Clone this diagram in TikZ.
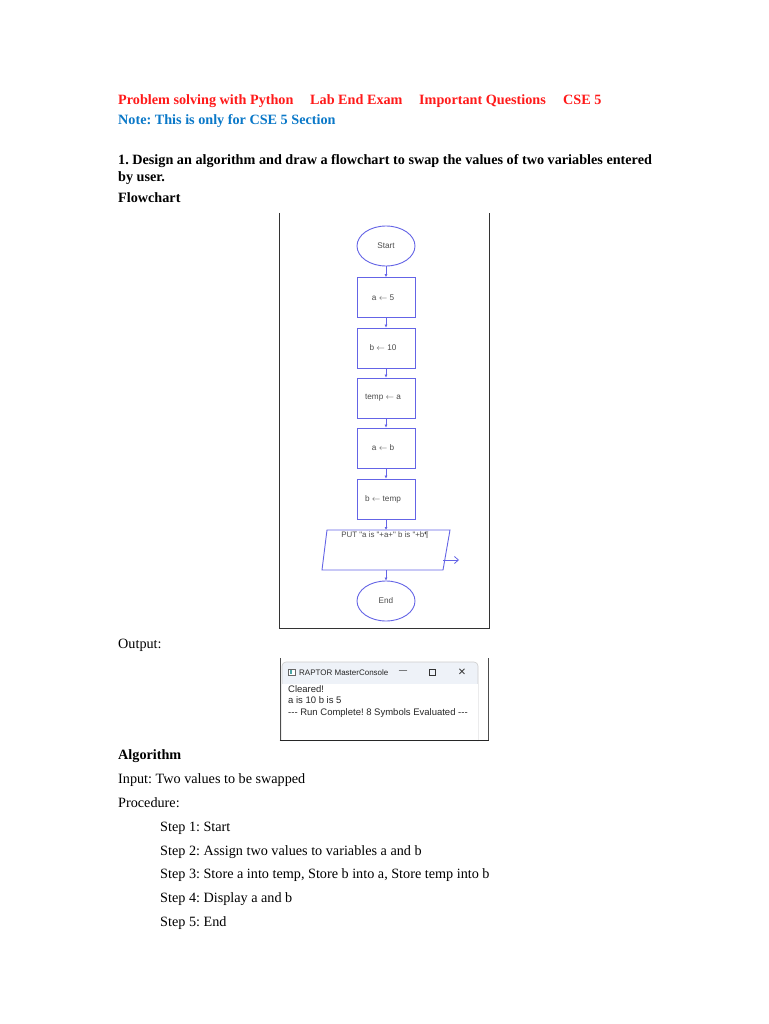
\documentclass[tikz,border=0pt]{standalone}
\usepackage{fontspec}
\setmainfont{Liberation Serif}
\newfontfamily\fcsans{Liberation Sans}
\newfontfamily\djv{DejaVu Sans}
\usetikzlibrary{arrows.meta,shapes.geometric}
\frenchspacing
\definecolor{hdrred}{HTML}{FF1A1A}
\definecolor{noteblue}{HTML}{0A78C8}
\definecolor{fcblue}{HTML}{6464E6}
\definecolor{tbar}{HTML}{EEF2F8}
\tikzset{
  txt/.style={anchor=base west,inner sep=0pt,font=\fontsize{14.2}{17}\selectfont},
  btxt/.style={txt,font=\fontsize{14.2}{17}\selectfont\bfseries},
  fcbox/.style={draw=fcblue,line width=0.9pt,minimum width=58pt,minimum height=40pt,inner sep=0pt,font=\fcsans\fontsize{8.2}{9}\selectfont,text=black!70},
  fcell/.style={ellipse,draw=fcblue,line width=0.9pt,minimum width=58pt,minimum height=40pt,inner sep=0pt,font=\fcsans\fontsize{8.2}{9}\selectfont,text=black!70},
  fcarr/.style={draw=fcblue,line width=0.8pt,-{Latex[length=3pt,width=3pt]}},
  cons/.style={anchor=base west,inner sep=0pt,font=\fcsans\fontsize{9.5}{11}\selectfont,text=black!85},
}
\begin{document}
\begin{tikzpicture}[x=1pt,y=-1pt]
\useasboundingbox (0,0) rectangle (768,1024);
\fill[white] (0,0) rectangle (768,1024);
% header
\node[btxt,text=hdrred] (h1) at (118,105) {Problem solving with Python};
\node[btxt,text=hdrred] (h2) at (310,105) {Lab End Exam};
\node[btxt,text=hdrred] (h3) at (419,105) {Important Questions};
\node[btxt,text=hdrred] (h4) at (563,105) {CSE 5};
\node[btxt,text=noteblue] (note) at (118,125) {Note: This is only for CSE 5 Section};
\node[btxt] (q1) at (118,165) {1. Design an algorithm and draw a flowchart to swap the values of two variables entered};
\node[btxt] (q2) at (118,182) {by user.};
\node[btxt] (fch) at (118,203) {Flowchart};
% frame
\draw[line width=0.9pt,black!80] (279,213) -- (279,628) -- (489,628) -- (489,213);
% flowchart
\node[fcell] (start) at (386,246) {Start};
\node[fcbox] (s1) at (386,297.5) {\hspace*{-6pt}a \(\leftarrow\) 5};
\node[fcbox] (s2) at (386,348) {\hspace*{-6pt}b \(\leftarrow\) 10};
\node[fcbox] (s3) at (386,398) {\hspace*{-6pt}temp \(\leftarrow\) a};
\node[fcbox] (s4) at (386,448) {\hspace*{-6pt}a \(\leftarrow\) b};
\node[fcbox] (s5) at (386,499) {\hspace*{-6pt}b \(\leftarrow\) temp};
\draw[fcblue,line width=0.9pt] (327,530) -- (450,530) -- (443,570) -- (322,570) -- cycle;
\coordinate (outtop) at (386,530);
\coordinate (outbot) at (386,570);
\node[font=\fcsans\fontsize{7.9}{9}\selectfont,text=black!70,inner sep=0pt] (outtxt) at (385,535.5) {PUT "a is "+a+" b is "+b¶};
\coordinate (outr) at (443,560);
\coordinate (outr2) at (459,560);
\draw[fcblue,line width=0.8pt,-{Straight Barb[length=4pt,width=7pt]}] (outr) -- (outr2);
\node[fcell] (end) at (386,601) {End};
\draw[fcarr] (start) -- (s1);
\draw[fcarr] (s1) -- (s2);
\draw[fcarr] (s2) -- (s3);
\draw[fcarr] (s3) -- (s4);
\draw[fcarr] (s4) -- (s5);
\draw[fcarr] (s5) -- (outtop);
\draw[fcarr] (outbot) -- (end);
% output
\node[txt] (outlbl) at (118,648) {Output:};
\draw[black!20,fill=tbar,line width=0.6pt,rounded corners=4pt] (282,741) -- (282,662) -- (478,662) -- (478,741);
\fill[white] (282.3,684) rectangle (477.7,740);
\draw[black!70,line width=1pt] (280,658) -- (280,741);
\draw[black!70,line width=1pt] (488,658) -- (488,741);
\draw[black!85,line width=1.4pt] (279.5,740.5) -- (488.5,740.5);
\node[draw=black!60,fill=white,minimum width=7pt,minimum height=6pt,inner sep=0pt,line width=0.5pt] (icon) at (292,672) {};
\fill[teal!70] (289.5,670) rectangle (292,674);
\node[cons,font=\fcsans\fontsize{8}{10}\selectfont] (ttl) at (299,675) {RAPTOR MasterConsole};
\node[font=\djv\fontsize{9}{10}\selectfont,inner sep=0pt,text=black!80] (mn) at (403,672) {—};
\node[draw=black!80,line width=0.6pt,minimum width=6pt,minimum height=6pt,inner sep=0pt] (mx) at (432,672) {};
\node[font=\djv\fontsize{10}{10}\selectfont,inner sep=0pt,text=black!80] (cl) at (462,672) {✕};
\node[cons] (c1) at (288,692) {Cleared!};
\node[cons] (c2) at (288,703.5) {a is 10 b is 5};
\node[cons] (c3) at (288,715) {--{}- Run Complete! 8 Symbols Evaluated --{}-};
% algorithm
\node[btxt] (alg) at (118,759) {Algorithm};
\node[txt] (inp) at (118,783) {Input: Two values to be swapped};
\node[txt] (proc) at (118,807) {Procedure:};
\node[txt] (st1) at (160,831) {Step 1: Start};
\node[txt] (st2) at (160,855) {Step 2: Assign two values to variables a and b};
\node[txt] (st3) at (160,878) {Step 3: Store a into temp, Store b into a, Store temp into b};
\node[txt] (st4) at (160,902) {Step 4: Display a and b};
\node[txt] (st5) at (160,926) {Step 5: End};
\end{tikzpicture}
\end{document}
